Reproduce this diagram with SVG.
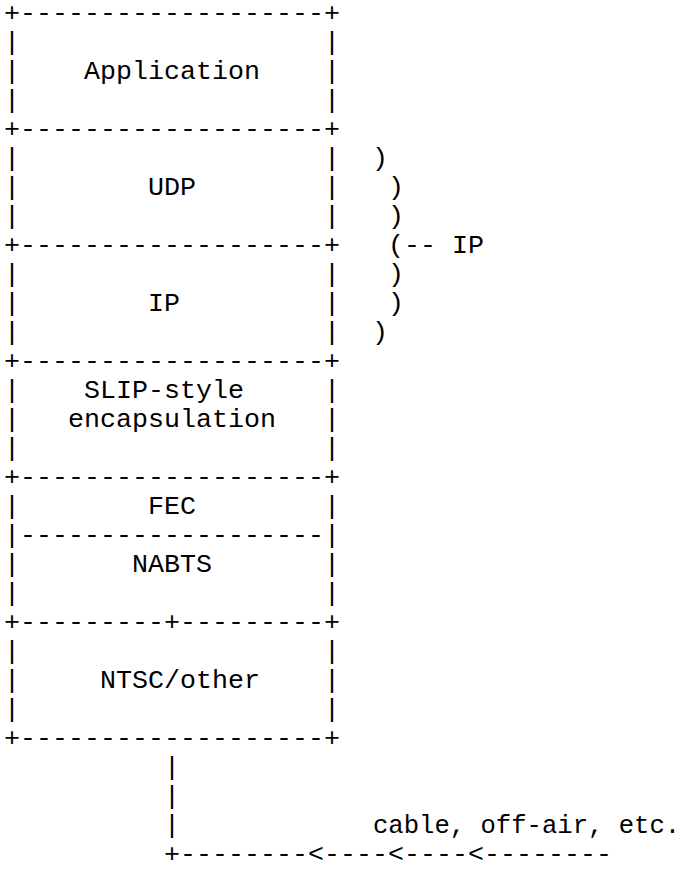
<svg xmlns="http://www.w3.org/2000/svg" width="690" height="872" viewBox="0 0 690 872" xml:space="preserve">
<style>
text { font-family: "Liberation Mono", "Courier New", monospace; font-size: 26.67px; fill: #000; white-space: pre; }
text.lbl { font-size: 25.6px; }
</style>
<rect x="0" y="0" width="690" height="872" fill="#fff"/>
<g id="application">
<text x="4" y="20.5">+-------------------+</text>
<text x="4" y="49.5">|                   |</text>
<text x="4" y="78.5">|    Application    |</text>
<text x="4" y="107.5">|                   |</text>
<text x="4" y="136.5">+-------------------+</text>
</g>
<g id="udp">
<text x="4" y="165.5">|                   |</text>
<text x="4" y="194.5">|        UDP        |</text>
<text x="4" y="223.5">|                   |</text>
<text x="4" y="252.5">+-------------------+</text>
</g>
<g id="ip">
<text x="4" y="281.5">|                   |</text>
<text x="4" y="310.5">|        IP         |</text>
<text x="4" y="339.5">|                   |</text>
<text x="4" y="368.5">+-------------------+</text>
</g>
<g id="slip">
<text x="4" y="397.5">|    SLIP-style     |</text>
<text x="4" y="426.5">|   encapsulation   |</text>
<text x="4" y="455.5">|                   |</text>
<text x="4" y="484.5">+-------------------+</text>
</g>
<g id="fec">
<text x="4" y="513.5">|        FEC        |</text>
<text x="4" y="542.5">|-------------------|</text>
</g>
<g id="nabts">
<text x="4" y="571.5">|       NABTS       |</text>
<text x="4" y="600.5">|                   |</text>
<text x="4" y="629.5">+---------+---------+</text>
</g>
<g id="ntsc">
<text x="4" y="658.5">|                   |</text>
<text x="4" y="687.5">|     NTSC/other    |</text>
<text x="4" y="716.5">|                   |</text>
<text x="4" y="745.5">+-------------------+</text>
</g>
<g id="connectors">
<text x="372" y="165.5">)</text>
<text x="388" y="194.5">)</text>
<text x="388" y="223.5">)</text>
<text x="388" y="252.5">(-- IP</text>
<text x="388" y="281.5">)</text>
<text x="388" y="310.5">)</text>
<text x="372" y="339.5">)</text>
<text x="164" y="774.5">|</text>
<text x="164" y="803.5">|</text>
<text x="164" y="832.5">|</text>
<text class="lbl" x="373" y="832.5">cable, off-air, etc.</text>
<text x="164" y="861.5">+--------&lt;----&lt;----&lt;--------</text>
</g>
</svg>
